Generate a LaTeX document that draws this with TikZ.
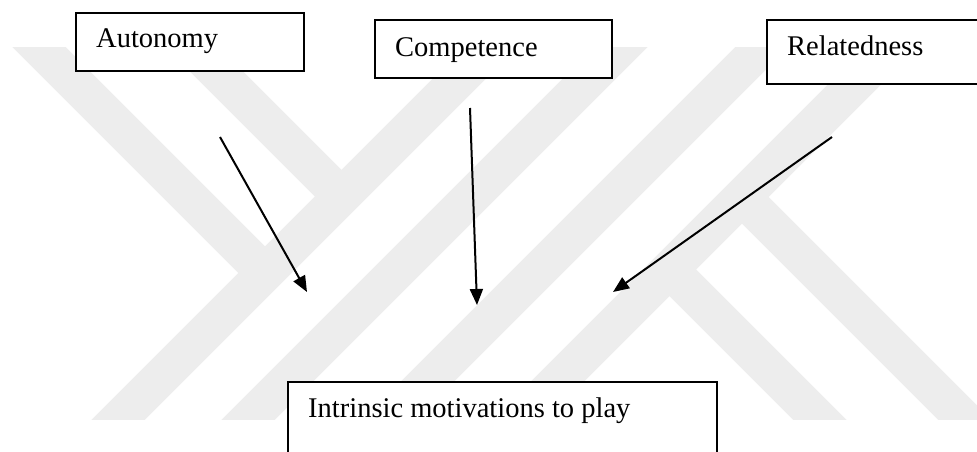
\documentclass[tikz,border=0pt]{standalone}
\usepackage{fontspec}
\setmainfont{Liberation Serif}
\usetikzlibrary{arrows.meta}
\definecolor{wmgray}{RGB}{237,237,237}
\tikzset{
  box/.style={draw=black, line width=1.8pt, fill=white, anchor=north west, inner sep=0pt},
  lbl/.style={anchor=base west, inner sep=0pt, font=\fontsize{28.5}{34}\selectfont},
  link/.style={line width=2pt, -{Triangle[length=16pt,width=13pt]}},
  band/.style={wmgray, line width=37.5pt},
}
\begin{document}
\begin{tikzpicture}[x=1pt,y=-1pt]
\clip (0,0) rectangle (977,452);
\fill[white] (0,0) rectangle (977,452);

% background emblem: diagonal bands (x+y = const rising, x-y = const falling)
\begin{scope}
  \clip (0,48) rectangle (977,419);
  % rising bands
  \draw[band] (538,0) -- (78,460);
  \draw[band] (668,0) -- (208,460);
  \draw[band] (809,0) -- (349,460);
  \draw[band] (939,0) -- (479,460);
  % falling legs joining the first rising band from the upper left
  \draw[band] (-8,0) -- (265,273);
  \draw[band] (145,0) -- (341.5,196.5);
  % falling legs leaving the last rising band to the lower right
  \draw[band] (742,197) -- (1005,460);
  \draw[band] (669.5,269.5) -- (860,460);
\end{scope}

% boxes
\node[box, minimum width=228pt, minimum height=58pt] (autonomy) at (75,12) {};
\node[box, minimum width=237pt, minimum height=58pt] (competence) at (374,19) {};
\node[box, minimum width=240pt, minimum height=64pt] (relatedness) at (766,19) {};
\node[box, minimum width=429pt, minimum height=100pt] (intrinsic) at (287,381) {};

% labels
\node[lbl] (autonomy-t) at (96,48) {Autonomy};
\node[lbl] (competence-t) at (395,57) {Competence};
\node[lbl] (relatedness-t) at (787,56) {Relatedness};
\node[lbl] (intrinsic-t) at (308,417) {Intrinsic motivations to play};

% arrows
\coordinate (s1) at (220,137);
\coordinate (e1) at (307,292);
\coordinate (s2) at (470,108);
\coordinate (e2) at (477,305);
\coordinate (s3) at (832,137);
\coordinate (e3) at (613,292);
\draw[link] (s1) -- (e1);
\draw[link] (s2) -- (e2);
\draw[link] (s3) -- (e3);
\end{tikzpicture}
\end{document}
